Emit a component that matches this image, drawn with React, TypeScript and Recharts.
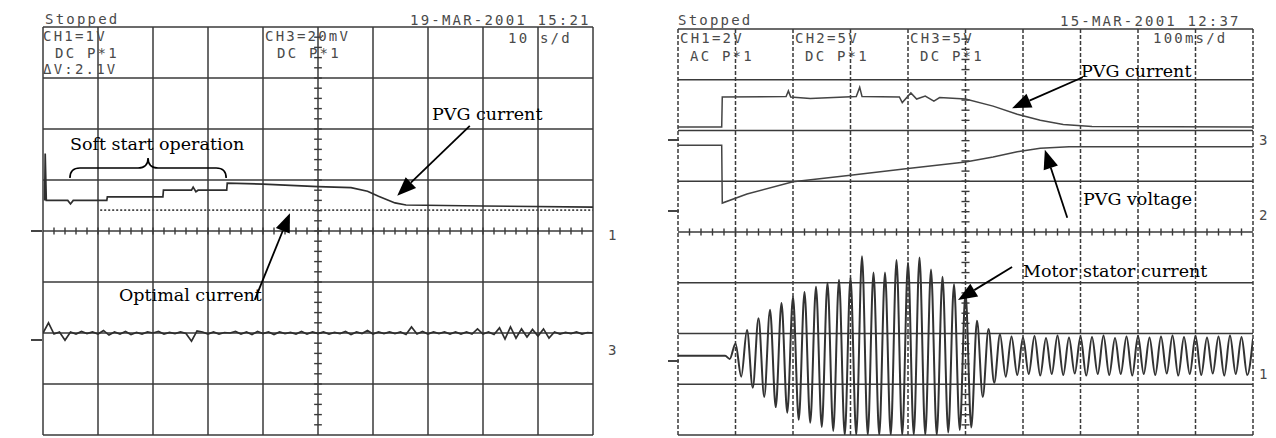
import React from "react";
import { LineChart, Line, XAxis, YAxis, ReferenceLine } from "recharts";

// time in divisions (10 per screen), level in divisions (-4..4 around centre)

// left scope, 10 s/d
const leftPvgCurrent = [
  { t: 0.03, v: 0.6 }, { t: 0.04, v: 1.52 }, { t: 0.06, v: 0.6 }, { t: 0.45, v: 0.6 },
  { t: 0.5, v: 0.53 }, { t: 0.55, v: 0.6 }, { t: 1.16, v: 0.6 }, { t: 1.17, v: 0.67 },
  { t: 2.18, v: 0.67 }, { t: 2.19, v: 0.8 }, { t: 2.7, v: 0.8 }, { t: 2.73, v: 0.86 },
  { t: 2.78, v: 0.77 }, { t: 2.82, v: 0.8 }, { t: 3.34, v: 0.8 }, { t: 3.35, v: 0.94 },
  { t: 4.0, v: 0.92 }, { t: 5.0, v: 0.87 }, { t: 5.6, v: 0.85 }, { t: 5.9, v: 0.78 },
  { t: 6.1, v: 0.68 }, { t: 6.4, v: 0.55 }, { t: 6.6, v: 0.51 }, { t: 8.0, v: 0.49 },
  { t: 10.0, v: 0.47 },
];
const leftOptimal = [{ t: 1.04, v: 0.41 }, { t: 10.0, v: 0.41 }];
// CH3 trace, one sample every 0.1 div
const leftCh3 = [
  -2.0, -1.8, -2.02, -1.98, -2.14, -1.98, -2.02, -1.97, -2.01, -1.98,
  -2.02, -1.95, -2.04, -1.98, -2.02, -1.97, -2.03, -1.99, -2.02, -1.98,
  -2.0, -1.97, -2.02, -1.99, -2.01, -1.98, -2.01, -2.16, -1.96, -1.98,
  -2.02, -1.98, -2.02, -1.99, -2.0, -1.97, -2.02, -1.98, -2.03, -1.97,
  -2.01, -1.98, -2.03, -1.98, -2.01, -1.99, -2.02, -1.97, -2.02, -1.98,
  -2.01, -1.98, -2.02, -1.99, -2.01, -1.97, -2.03, -1.98, -2.01, -1.95,
  -2.02, -1.98, -2.01, -1.98, -2.01, -1.98, -2.03, -1.88, -2.02, -1.97,
  -2.02, -1.98, -2.01, -1.98, -2.02, -1.98, -2.02, -1.98, -2.02, -1.92,
  -2.02, -1.98, -2.03, -1.9, -2.12, -1.88, -2.1, -1.92, -2.08, -1.93,
  -2.06, -1.92, -2.1, -1.98, -2.02, -1.99, -2.01, -1.98, -2.02, -1.99, -2.0,
];

// right scope, 100 ms/d
const rightPvgCurrent = [
  { t: 0, v: 2.07 }, { t: 0.76, v: 2.07 }, { t: 0.77, v: 2.66 }, { t: 1.88, v: 2.67 },
  { t: 1.92, v: 2.78 }, { t: 1.96, v: 2.66 }, { t: 2.3, v: 2.63 }, { t: 3.1, v: 2.67 },
  { t: 3.16, v: 2.85 }, { t: 3.2, v: 2.67 }, { t: 3.85, v: 2.66 }, { t: 3.9, v: 2.55 },
  { t: 4.05, v: 2.74 }, { t: 4.15, v: 2.62 }, { t: 4.3, v: 2.68 }, { t: 4.45, v: 2.58 },
  { t: 4.55, v: 2.65 }, { t: 5.0, v: 2.62 }, { t: 5.48, v: 2.48 }, { t: 5.9, v: 2.32 },
  { t: 6.3, v: 2.2 }, { t: 6.7, v: 2.12 }, { t: 7.2, v: 2.08 }, { t: 10.0, v: 2.07 },
];
const rightPvgVoltage = [
  { t: 0, v: 1.71 }, { t: 0.76, v: 1.71 }, { t: 0.77, v: 0.57 }, { t: 1.2, v: 0.75 },
  { t: 2.0, v: 0.99 }, { t: 3.0, v: 1.12 }, { t: 4.0, v: 1.25 }, { t: 5.0, v: 1.38 },
  { t: 5.48, v: 1.48 }, { t: 5.9, v: 1.58 }, { t: 6.3, v: 1.65 }, { t: 6.8, v: 1.68 },
  { t: 10.0, v: 1.68 },
];
const statorLead = [{ t: 0, v: -2.44 }, { t: 0.82, v: -2.44 }];
// stator current peaks and troughs, every 0.1 div from t = 0.9
const statorSwing = [
  -2.5, -2.2, -2.85, -1.93, -3.07, -1.7, -3.25, -1.53, -3.45, -1.4,
  -3.56, -1.28, -3.7, -1.18, -3.76, -1.08, -3.84, -1.0, -3.92, -0.94,
  -4.0, -0.9, -4.0, -0.48, -4.0, -0.8, -4.0, -0.8, -4.0, -0.55,
  -4.0, -0.6, -4.0, -0.5, -4.0, -0.74, -4.0, -0.88, -3.95, -1.03,
  -3.9, -1.2, -3.85, -1.75, -3.25, -1.91, -2.97, -2.02, -2.85, -2.06,
  -2.82, -2.08, -2.8, -2.05, -2.83, -2.09, -2.8, -2.04, -2.82, -2.08,
  -2.79, -2.06, -2.83, -2.07, -2.8, -2.04, -2.82, -2.09, -2.8, -2.06,
  -2.83, -2.05, -2.8, -2.08, -2.82, -2.06, -2.79, -2.04, -2.83, -2.07,
  -2.8, -2.05, -2.82, -2.08, -2.79, -2.06, -2.83, -2.04, -2.8, -2.07,
  -2.82, -2.1,
];

const divX = [0, 1, 2, 3, 4, 5, 6, 7, 8, 9, 10];
const divY = [-4, -3, -2, -1, 0, 1, 2, 3, 4];
const minorX = Array.from({ length: 49 }, (_, i) => +(0.2 * (i + 1)).toFixed(1));
const minorY = Array.from({ length: 39 }, (_, i) => +(-3.8 + 0.2 * i).toFixed(1));

const ch3Data = leftCh3.map((v, i) => ({ t: +(i * 0.1).toFixed(1), v }));
const statorData = [
  ...statorLead,
  ...statorSwing.map((v, i) => ({ t: +(0.9 + i * 0.1).toFixed(1), v })),
];

const INK = "#2e2e2e";
const GRID = "#3a3a3a";

const Arrow = (p: any) => {
  const { x1, y1, x2, y2 } = p;
  const a = Math.atan2(y2 - y1, x2 - x1);
  const L = 19;
  const W = 7.5;
  const bx = x2 - L * Math.cos(a);
  const by = y2 - L * Math.sin(a);
  const ox = -Math.sin(a) * W;
  const oy = Math.cos(a) * W;
  return (
    <g>
      <line x1={x1} y1={y1} x2={bx} y2={by} stroke="#000" strokeWidth={1.8} />
      <polygon points={`${x2},${y2} ${bx + ox},${by + oy} ${bx - ox},${by - oy}`} fill="#000" />
    </g>
  );
};

const Brace = (p: any) => {
  const { x1, y1, x2 } = p;
  const h = 10;
  const xm = (x1 + x2) / 2;
  const d = `M${x1},${y1} Q${x1},${y1 - h} ${x1 + h},${y1 - h} L${xm - h},${y1 - h} Q${xm},${y1 - h} ${xm},${y1 - 2 * h} Q${xm},${y1 - h} ${xm + h},${y1 - h} L${x2 - h},${y1 - h} Q${x2},${y1 - h} ${x2},${y1}`;
  return <path d={d} fill="none" stroke="#000" strokeWidth={1.6} />;
};

function gridLines(dashed: boolean, dx: number, dy: number) {
  return [
    ...divX.map((x) => (
      <ReferenceLine key={"gx" + x} x={x} stroke={GRID} strokeWidth={1.5} strokeDasharray={dashed ? "4 2" : undefined} />
    )),
    ...divY.map((y) => <ReferenceLine key={"gy" + y} y={y} stroke={GRID} strokeWidth={1.5} />),
    ...minorX.map((x) => (
      <ReferenceLine key={"mx" + x} segment={[{ x, y: -dy }, { x, y: dy }]} stroke={GRID} strokeWidth={1.4} />
    )),
    ...minorY.map((y) => (
      <ReferenceLine key={"my" + y} segment={[{ x: 5 - dx, y }, { x: 5 + dx, y }]} stroke={GRID} strokeWidth={1.4} />
    )),
  ];
}

const mono: React.CSSProperties = {
  fontFamily: "'DejaVu Sans Mono', monospace",
  fontSize: 14,
  letterSpacing: 2.2,
  color: "#4a4a4a",
};
const serif: React.CSSProperties = {
  fontFamily: "'DejaVu Serif', serif",
  fontSize: 17.5,
  color: "#000",
};

const Txt = ({ x, y, s, children }: { x: number; y: number; s: React.CSSProperties; children: React.ReactNode }) => (
  <div style={{ position: "absolute", left: x, top: y, whiteSpace: "pre", lineHeight: 1, ...s }}>{children}</div>
);

const Mark = ({ x, y }: { x: number; y: number }) => (
  <div style={{ position: "absolute", left: x, top: y - 1, width: 11, height: 2, background: "#444" }} />
);

export default function App() {
  return (
    <div style={{ position: "absolute", left: 0, top: 0, width: 1276, height: 438, background: "#fff", overflow: "hidden" }}>
      <div style={{ position: "absolute", left: 0, top: 0 }}>
        <LineChart width={620} height={438} margin={{ top: 27, left: 43, right: 27, bottom: 3 }}>
          <XAxis type="number" dataKey="t" domain={[0, 10]} hide allowDataOverflow />
          <YAxis type="number" domain={[-4, 4]} hide allowDataOverflow />
          {gridLines(false, 0.07, 0.07)}
          <Line data={leftOptimal} dataKey="v" type="linear" stroke="#444" strokeWidth={1.6} strokeDasharray="2 2" dot={false} isAnimationActive={false} />
          <Line data={leftPvgCurrent} dataKey="v" type="linear" stroke={INK} strokeWidth={1.7} dot={false} isAnimationActive={false} />
          <Line data={ch3Data} dataKey="v" type="linear" stroke={INK} strokeWidth={1.7} dot={false} isAnimationActive={false} />
          <ReferenceLine segment={[{ x: 0.49, y: 1.04 }, { x: 3.33, y: 1.04 }]} shape={Brace} ifOverflow="visible" />
          <ReferenceLine segment={[{ x: 7.76, y: 2.06 }, { x: 6.44, y: 0.69 }]} shape={Arrow} ifOverflow="visible" />
          <ReferenceLine segment={[{ x: 3.85, y: -1.35 }, { x: 4.49, y: 0.35 }]} shape={Arrow} ifOverflow="visible" />
        </LineChart>
      </div>
      <div style={{ position: "absolute", left: 640, top: 0 }}>
        <LineChart width={636} height={438} margin={{ top: 29, left: 38, right: 23, bottom: 3 }}>
          <XAxis type="number" dataKey="t" domain={[0, 10]} hide allowDataOverflow />
          <YAxis type="number" domain={[-4, 4]} hide allowDataOverflow />
          {gridLines(true, 0.07, 0.07)}
          <Line data={rightPvgCurrent} dataKey="v" type="linear" stroke="#444" strokeWidth={1.5} dot={false} isAnimationActive={false} />
          <Line data={rightPvgVoltage} dataKey="v" type="linear" stroke="#444" strokeWidth={1.5} dot={false} isAnimationActive={false} />
          <Line data={statorData} dataKey="v" type="monotone" stroke="#333" strokeWidth={2} dot={false} isAnimationActive={false} />
          <ReferenceLine segment={[{ x: 7.04, y: 3.05 }, { x: 5.81, y: 2.44 }]} shape={Arrow} ifOverflow="visible" />
          <ReferenceLine segment={[{ x: 6.77, y: 0.28 }, { x: 6.38, y: 1.62 }]} shape={Arrow} ifOverflow="visible" />
          <ReferenceLine segment={[{ x: 5.81, y: -0.69 }, { x: 4.87, y: -1.34 }]} shape={Arrow} ifOverflow="visible" />
        </LineChart>
      </div>

      {/* left scope readouts */}
      <Txt x={45} y={12} s={mono}>Stopped</Txt>
      <Txt x={43} y={29} s={mono}>CH1=1V</Txt>
      <Txt x={55} y={46} s={mono}>DC P*1</Txt>
      <Txt x={43} y={62} s={mono}>ΔV:2.1V</Txt>
      <Txt x={265} y={29} s={mono}>CH3=20mV</Txt>
      <Txt x={277} y={46} s={mono}>DC P*1</Txt>
      <Txt x={410} y={13} s={mono}>19-MAR-2001 15:21</Txt>
      <Txt x={508} y={31} s={mono}>10 s/d</Txt>
      <Txt x={608} y={228} s={mono}>1</Txt>
      <Txt x={608} y={343} s={mono}>3</Txt>
      <Mark x={31} y={231} />
      <Mark x={31} y={340} />

      {/* right scope readouts */}
      <Txt x={678} y={13} s={mono}>Stopped</Txt>
      <Txt x={680} y={31} s={mono}>CH1=2V</Txt>
      <Txt x={690} y={49} s={mono}>AC P*1</Txt>
      <Txt x={795} y={31} s={mono}>CH2=5V</Txt>
      <Txt x={805} y={49} s={mono}>DC P*1</Txt>
      <Txt x={910} y={31} s={mono}>CH3=5V</Txt>
      <Txt x={920} y={49} s={mono}>DC P*1</Txt>
      <Txt x={1060} y={14} s={mono}>15-MAR-2001 12:37</Txt>
      <Txt x={1153} y={31} s={mono}>100ms/d</Txt>
      <Txt x={1259} y={133} s={mono}>3</Txt>
      <Txt x={1259} y={208} s={mono}>2</Txt>
      <Txt x={1259} y={367} s={mono}>1</Txt>
      <Mark x={668} y={140} />
      <Mark x={668} y={211} />
      <Mark x={668} y={361} />

      {/* annotations */}
      <Txt x={70} y={136} s={serif}>Soft start operation</Txt>
      <Txt x={432} y={106} s={serif}>PVG current</Txt>
      <Txt x={119} y={287} s={serif}>Optimal current</Txt>
      <Txt x={1081} y={63} s={serif}>PVG current</Txt>
      <Txt x={1083} y={191} s={serif}>PVG voltage</Txt>
      <Txt x={1023} y={263} s={serif}>Motor stator current</Txt>
    </div>
  );
}
